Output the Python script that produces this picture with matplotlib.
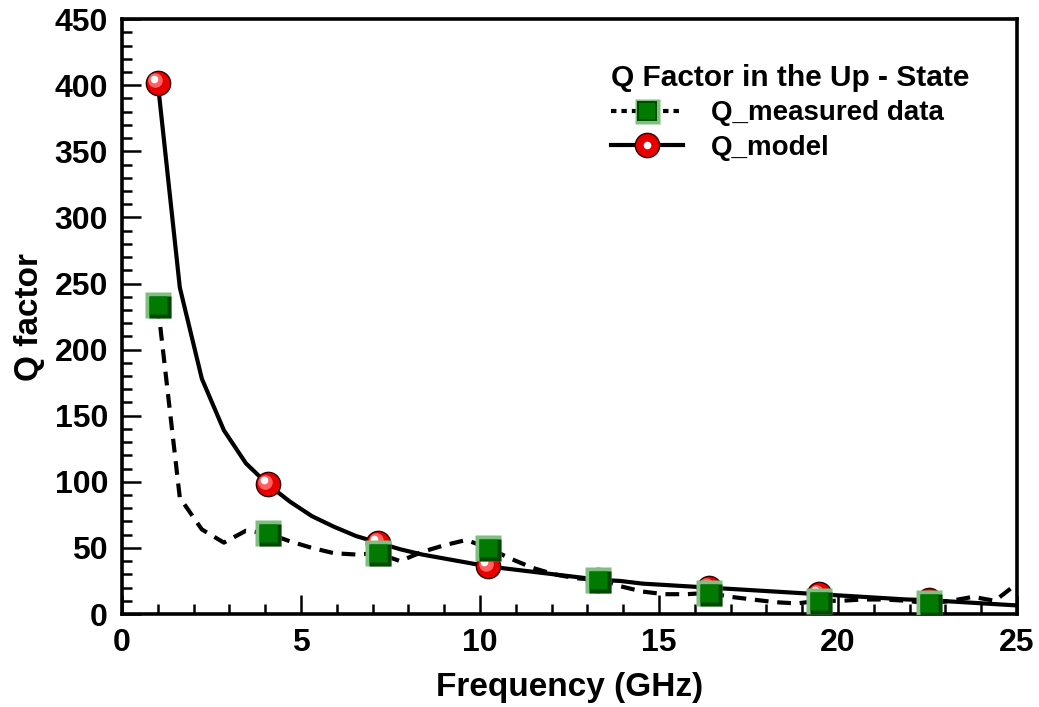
"""Q factor vs frequency, up-state: measured data against model."""
import numpy as np
import matplotlib
matplotlib.use("Agg")
import matplotlib.pyplot as plt
from matplotlib.lines import Line2D
from matplotlib.legend_handler import HandlerTuple
from matplotlib.transforms import offset_copy

plt.rcParams["font.family"] = ["Liberation Sans", "DejaVu Sans"]
plt.rcParams["font.weight"] = "bold"

# frequency grid (GHz), 40 samples from 1 to 25
freq = np.linspace(1.0, 25.0, 40)

q_model = [402, 247, 178, 139, 114, 98, 85, 74, 66, 59,
           54, 49, 45, 42, 39, 36, 34, 32, 30, 28,
           26, 25, 23, 22, 21, 20, 19, 18, 17, 16,
           15, 14, 13, 12, 11, 10.5, 9.5, 8.5, 7.5, 6.5]

q_measured = [234, 88, 64, 54, 63, 61, 55, 50, 46, 45,
              46, 40, 47, 52, 56, 50, 42, 35, 30, 27,
              26, 21, 17, 15, 15, 16, 13, 11, 9, 8,
              10, 10, 11, 11, 10, 8, 10, 13, 10, 23]

mark_every = 5

fig = plt.figure(figsize=(10.39, 7.07), dpi=100)
ax = fig.add_axes([0.1174, 0.1315, 0.8614, 0.8415])

lw = 3.0
dash = (0, (3.3, 2.1))
ax.plot(freq, q_measured, color="black", lw=lw, ls=dash, zorder=2)
ax.plot(freq, q_model, color="black", lw=lw, ls="-", zorder=2)

mk_x = freq[::mark_every]
mk_meas = np.asarray(q_measured)[::mark_every]
mk_model = np.asarray(q_model)[::mark_every]

# red "sphere" markers
ax.plot(mk_x, mk_model, ls="none", marker="o", ms=17.5, mfc="#e80000",
        mec="#300000", mew=1.0, zorder=3)
hl1 = offset_copy(ax.transData, fig=fig, x=-2.5, y=2.5, units="dots")
ax.plot(mk_x, mk_model, ls="none", marker="o", ms=10.5, mfc="#ff6060",
        mec="none", transform=hl1, zorder=4)
hl2 = offset_copy(ax.transData, fig=fig, x=-4, y=4, units="dots")
ax.plot(mk_x, mk_model, ls="none", marker="o", ms=5.5, mfc="white",
        mec="none", transform=hl2, zorder=5)

# green bevelled squares
ax.plot(mk_x, mk_meas, ls="none", marker="s", ms=18.5, mfc="#7fbf7f",
        mec="none", zorder=6)
sh = offset_copy(ax.transData, fig=fig, x=2, y=-2, units="dots")
ax.plot(mk_x, mk_meas, ls="none", marker="s", ms=16, mfc="#004800",
        mec="none", transform=sh, zorder=7)
ax.plot(mk_x, mk_meas, ls="none", marker="s", ms=12.5, mfc="#007a00",
        mec="none", zorder=8)

ax.set_xlim(0, 25)
ax.set_ylim(0, 450)
ax.set_xticks(np.arange(0, 26, 5))
ax.set_yticks(np.arange(0, 451, 50))
ax.set_xticks(np.arange(0, 26, 1), minor=True)
ax.set_yticks(np.arange(0, 451, 10), minor=True)
ax.tick_params(which="both", direction="in", width=1.8, labelsize=23)
ax.tick_params(which="major", length=14, pad=10)
ax.tick_params(which="minor", length=7)
for s in ax.spines.values():
    s.set_linewidth(2.6)

ax.set_xlabel("Frequency (GHz)", fontsize=24, fontweight="bold", labelpad=10)
ax.set_ylabel("Q factor", fontsize=24, fontweight="bold", labelpad=7)

h_meas = (Line2D([], [], color="black", lw=lw, ls=(0, (1.3, 1.2))),
          Line2D([], [], ls="none", marker="s", ms=18, mfc="#7fbf7f", mec="none"),
          Line2D([], [], ls="none", marker="s", ms=12.5, mfc="#007a00", mec="#004800", mew=1.4))
h_model = (Line2D([], [], color="black", lw=lw),
           Line2D([], [], ls="none", marker="o", ms=17.5, mfc="#e80000", mec="#300000"),
           Line2D([], [], ls="none", marker="o", ms=5.5, mfc="white", mec="none"))
leg = ax.legend([h_meas, h_model], ["Q_measured data", "Q_model"],
                handler_map={tuple: HandlerTuple(ndivide=1, pad=0)},
                title="Q Factor in the Up - State", loc="upper left",
                bbox_to_anchor=(0.577, 0.925), bbox_transform=fig.transFigure,
                frameon=False, fontsize=20, handlelength=2.6, handletextpad=1.0,
                labelspacing=0.3, borderaxespad=0)
leg.get_title().set_fontweight("bold")
leg.get_title().set_fontsize(21.5)
leg._legend_box.align = "left"

fig.savefig("out.png", dpi=100)
